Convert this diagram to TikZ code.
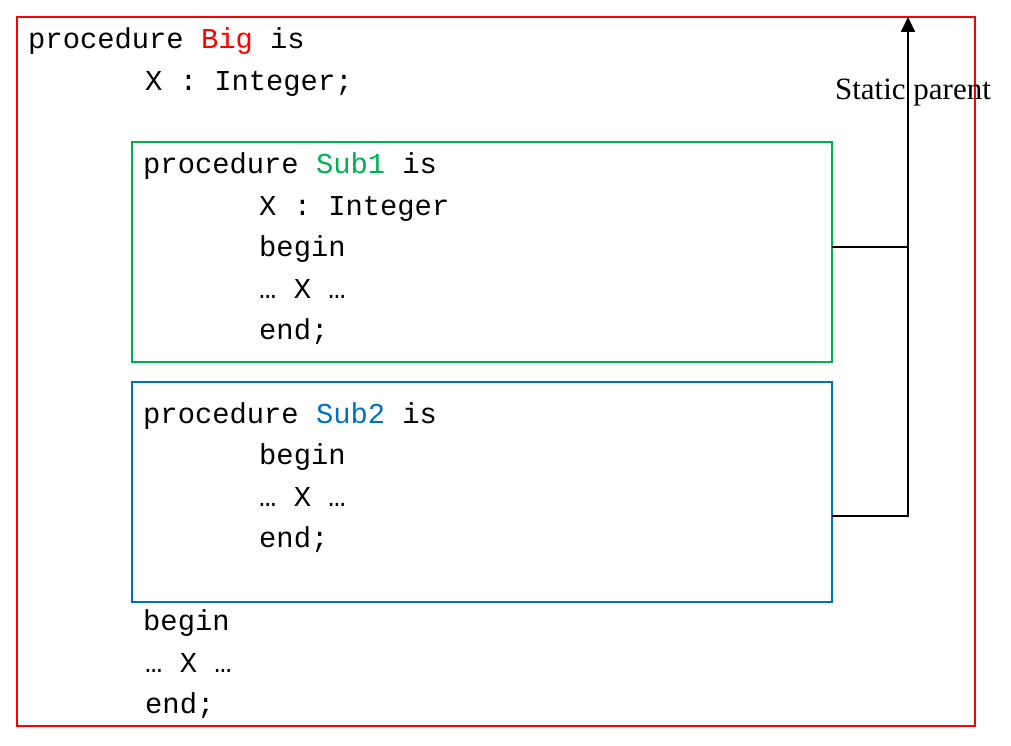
\documentclass[tikz,border=0pt]{standalone}
\usepackage{fontspec}
\setmainfont{Liberation Serif}
\setmonofont{Liberation Mono}
\usetikzlibrary{arrows.meta,calc}
\definecolor{bigred}{RGB}{255,0,0}
\definecolor{subgreen}{RGB}{0,176,80}
\definecolor{subblue}{RGB}{0,112,192}
\newcommand{\progfont}{\ttfamily\fontsize{28.8}{34}\selectfont}

\begin{document}
\begin{tikzpicture}[
    x=1pt, y=-1pt,
    code/.style={font=\progfont, anchor=base west, inner sep=0pt},
    scopebox/.style={rectangle, line width=2pt, inner sep=0pt, outer sep=0pt},
    link/.style={draw=black, line width=2pt},
    arrow/.style={-{Triangle[length=15pt, width=14pt]}, link},
    note/.style={font=\fontsize{31}{36}\selectfont, inner sep=0pt}
]
    \useasboundingbox (0,0) rectangle (1011,746);

    % scope boxes
    \node[scopebox, draw=bigred, minimum width=958pt, minimum height=709pt] (big) at (496,371.5) {};
    \node[scopebox, draw=subgreen, minimum width=700pt, minimum height=220pt] (sub1) at (482,252) {};
    \node[scopebox, draw=subblue, minimum width=700pt, minimum height=220pt] (sub2) at (482,492) {};

    % procedure Big
    \node[code] (bighead) at (28,49) {procedure {\color{bigred}Big} is};
    \node[code] (bigdecl) at (145,91) {X : Integer;};

    % procedure Sub1
    \node[code] (s1head) at (143,174) {procedure {\color{subgreen}Sub1} is};
    \node[code] (s1decl) at (259,215) {X : Integer};
    \node[code] (s1begin) at (259,256) {begin};
    \node[code] (s1body) at (259,298) {… X …};
    \node[code] (s1end) at (259,339) {end;};

    % procedure Sub2
    \node[code] (s2head) at (143,423) {procedure {\color{subblue}Sub2} is};
    \node[code] (s2begin) at (259,464) {begin};
    \node[code] (s2body) at (259,506) {… X …};
    \node[code] (s2end) at (259,547) {end;};

    % body of Big
    \node[code] (bigbegin) at (143,630) {begin};
    \node[code] (bigbody) at (145,672) {… X …};
    \node[code] (bigend) at (145,713) {end;};

    % static links
    \coordinate (top) at (908,17);
    \coordinate (s1out) at ($(sub1.north east)!0.477!(sub1.south east)$);
    \coordinate (s2out) at ($(sub2.north east)!0.609!(sub2.south east)$);
    \draw[arrow] (s2out) -| (top);
    \draw[link] (s1out) -- (s1out -| top);
    \node[note] (label) at (913,93) {Static parent};
\end{tikzpicture}
\end{document}
